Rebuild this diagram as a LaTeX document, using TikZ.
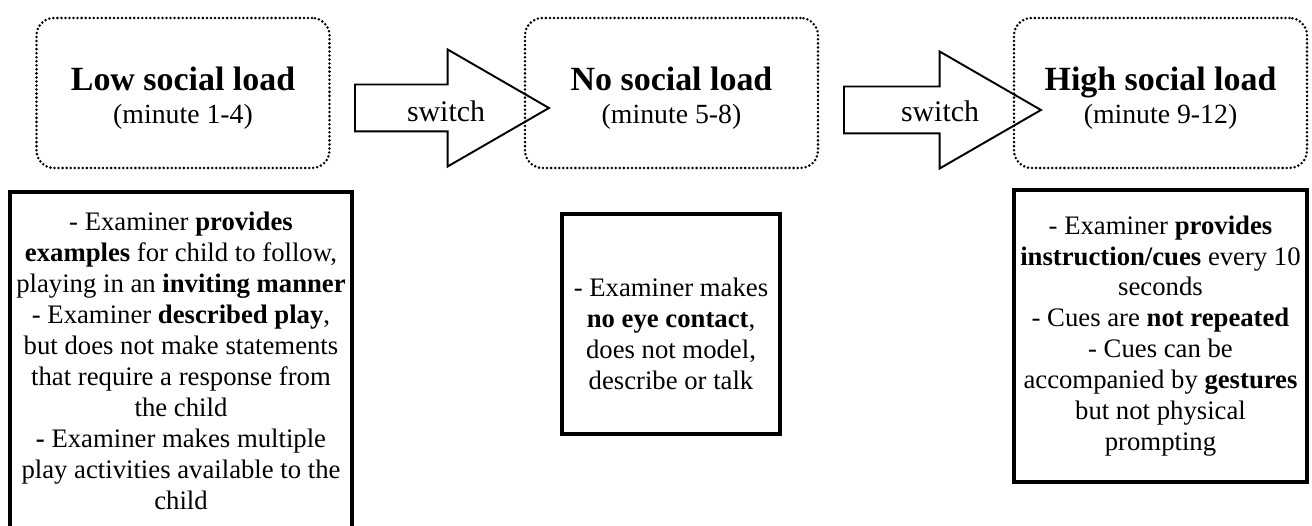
\documentclass[tikz,border=0pt]{standalone}
\usepackage{fontspec}
\setmainfont{Liberation Serif}
\usetikzlibrary{shapes.arrows}

\newcommand{\headsize}{\fontsize{19.3}{21}\selectfont}
\newcommand{\minutesize}{\fontsize{15.8}{17.6}\selectfont}
\newcommand{\switchsize}{\fontsize{17}{19}\selectfont}
\newcommand{\bodysize}{\fontsize{15.2}{17.6}\selectfont}

\tikzset{
  phase/.style = {draw = black, rounded corners = 0.35cm, line width = 1.6pt,
    dash pattern = on 0pt off 2.3pt, line cap = round,
    minimum width = 5.86cm, minimum height = 3cm, align = center,
    font = \minutesize},
  info/.style = {draw = black, line width = 2.4pt, align = center,
    font = \bodysize, inner sep = 0pt},
  switcharrow/.style = {single arrow, draw = black, line width = 1.1pt,
    minimum width = 2.3cm, single arrow head extend = 0.7cm,
    single arrow tip angle = 60, anchor = tail,
    inner xsep = 0pt, inner ysep = 0.45cm},
}

\begin{document}
\begin{tikzpicture}
        \useasboundingbox (0, 0) rectangle (26.24, -10.52);
        \clip (0, 0) rectangle (26.24, -10.52);

        % ------------------------------------------------------------------------
        % Phases
        \node[phase] at ( 3.66, -1.86) (low)  {\rule{0pt}{19pt}{\headsize\textbf{Low social load}}\\[1pt](minute 1-4)};
        \node[phase] at (13.43, -1.86) (none) {\rule{0pt}{19pt}{\headsize\textbf{No social load}}\\[1pt](minute 5-8)};
        \node[phase] at (23.21, -1.86) (high) {\rule{0pt}{19pt}{\headsize\textbf{High social load}}\\[1pt](minute 9-12)};

        % ------------------------------------------------------------------------
        % Switches
        \node[switcharrow, minimum height = 3.88cm] at ( 7.08, -2.16) (sw1) {};
        \node[switcharrow, minimum height = 3.94cm] at (16.86, -2.20) (sw2) {};

        \node[font = \switchsize] at ( 8.92, -2.22) (sw1label) {switch};
        \node[font = \switchsize] at (18.80, -2.22) (sw2label) {switch};

        % ------------------------------------------------------------------------
        % What the examiner does
        \node[info, minimum width = 6.84cm, minimum height = 6.76cm] at ( 3.62, -7.22) (lowinfo) {%
          - Examiner \textbf{provides}\\
          \textbf{examples} for child to follow,\\
          playing in an \textbf{inviting manner}\\
          - Examiner \textbf{described play},\\
          but does not make statements\\
          that require a response from\\
          the child\\
          \textbf{-} Examiner makes multiple\\
          play activities available to the\\
          child};

        \node[info, minimum width = 4.36cm, minimum height = 4.40cm] at (13.42, -6.48) (noneinfo) {%
          \rule{0pt}{22pt}- Examiner makes\\
          \textbf{no eye contact},\\
          does not model,\\
          describe or talk};

        \node[info, minimum width = 5.86cm, minimum height = 5.84cm] at (23.21, -6.72) (highinfo) {%
          - Examiner \textbf{provides}\\
          \textbf{instruction/cues} every 10\\
          seconds\\
          - Cues are \textbf{not repeated}\\
          - Cues can be\\
          accompanied by \textbf{gestures}\\
          but not physical\\
          prompting};
      \end{tikzpicture}
\end{document}
